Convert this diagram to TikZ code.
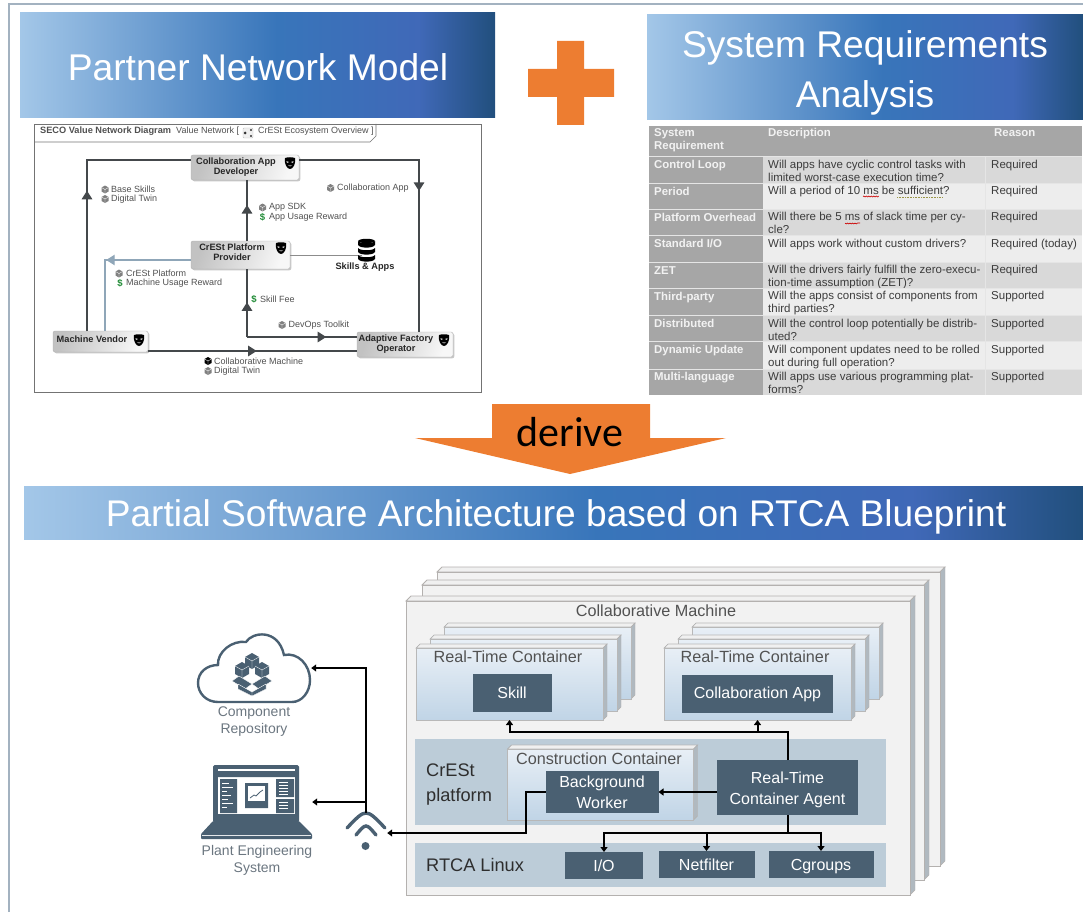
\documentclass[tikz,border=0pt]{standalone}
\usepackage{fontspec}
\setmainfont{Liberation Sans}
\newfontfamily\derivefont{Carlito}
\usetikzlibrary{arrows.meta,decorations.markings,decorations.pathmorphing,shadows}
\definecolor{framegrey}{HTML}{A3B2C0}
\definecolor{plusorange}{HTML}{ED7D31}
\definecolor{slate}{HTML}{4A6072}
\definecolor{bandblue}{HTML}{BCCCD8}
\definecolor{machinegrey}{HTML}{F2F2F2}
\definecolor{edgegrey}{HTML}{B4B1AF}
\definecolor{sidegrey}{HTML}{8E9BA5}
\definecolor{vnline}{HTML}{44484B}
\definecolor{vnblue}{HTML}{8FA6B8}
\definecolor{vntext}{HTML}{505050}
\definecolor{dollargreen}{HTML}{1E8A34}
\definecolor{headgrey}{HTML}{A6A6A6}
\definecolor{rowdark}{HTML}{D9D9D9}
\definecolor{rowlight}{HTML}{EDEDED}
\definecolor{cellink}{HTML}{3C3C3C}
\definecolor{cratetop}{HTML}{E8EFF6}
\definecolor{cratefoot}{HTML}{C0D4E6}
\definecolor{greylabel}{HTML}{6B7680}
\pgfdeclarehorizontalshading{bandshade}{100bp}{
	rgb(0bp)=(0.64,0.78,0.91);rgb(25bp)=(0.64,0.78,0.91);rgb(52bp)=(0.22,0.46,0.73);
	rgb(67bp)=(0.25,0.41,0.72);rgb(75bp)=(0.13,0.31,0.49);rgb(100bp)=(0.13,0.31,0.49)}
\tikzset{
	headband/.style={shading=bandshade,draw=none},
	headtext/.style={text=white,align=center,inner sep=0pt,font=\fontsize{37.2}{50}\selectfont},
	vnwire/.style={draw=vnline,line width=1.2pt},
	midtip/.style={postaction={decorate},decoration={markings,mark=at position #1 with {\arrow{Triangle[width=10.5pt,length=8.5pt]}}}},
	actor/.style={rounded corners=2pt,draw=white!70!black,inner sep=0pt,outer sep=0pt,shading=axis,left color=white!76!black,right color=white!97!black,shading angle=70,drop shadow={shadow xshift=1.3pt,shadow yshift=-1.3pt,opacity=.22,fill=black}},
	actortext/.style={font=\fontsize{9.2}{10}\selectfont\bfseries,align=center,text=black!85,inner sep=0pt},
	vnlabel/.style={font=\fontsize{9}{10}\selectfont,text=vntext,anchor=west,inner sep=0pt},
	dollar/.style={font=\fontsize{9.5}{10}\selectfont\bfseries,text=dollargreen,inner sep=0pt},
	pkgicon/.style={fill=black!50},
	pkg/.pic={
		\path[pic actions] (0,-4) -- (3.5,-2) -- (3.5,2) -- (0,4) -- (-3.5,2) -- (-3.5,-2) -- cycle;
		\draw[white,line width=.35pt] (-3.5,-2) -- (0,0) -- (3.5,-2) (0,0) -- (0,4);
	},
	mask/.pic={
		\fill[black] (-5,-5) .. controls (-2,-6) and (2,-6) .. (5,-5) .. controls (6,1) and (3,6) .. (0,6) .. controls (-3,6) and (-6,1) .. (-5,-5) -- cycle;
		\fill[white] (-3.4,-1.8) -- (-.8,-.9) -- (-3,-.2) -- cycle (3.4,-1.8) -- (.8,-.9) -- (3,-.2) -- cycle;
		\fill[white] (-2,2) .. controls (-1,3) and (1,3) .. (2,2) .. controls (1,3.9) and (-1,3.9) .. (-2,2) -- cycle;
	},
	cellbold/.style={font=\fontsize{11.4}{13}\selectfont\bfseries,text=white!95!black,anchor=north west,inner sep=0pt,align=left},
	cellplain/.style={font=\fontsize{11.5}{13}\selectfont,text=cellink,anchor=north west,inner sep=0pt,align=left},
	machine/.style={fill=machinegrey,draw=edgegrey,line width=.9pt},
	container/.style={top color=cratetop,bottom color=cratefoot,draw=white!72!black,line width=.7pt},
	darkbox/.style={fill=slate,text=white,inner sep=0pt,outer sep=0pt,align=center,font=\fontsize{16}{21}\selectfont},
	archlabel/.style={font=\fontsize{16.2}{18}\selectfont,text=black!68,inner sep=0pt},
	layerlabel/.style={font=\fontsize{18.2}{25}\selectfont,text=black!82,inner sep=0pt,anchor=west,align=left},
	sidelabel/.style={font=\fontsize{14}{17}\selectfont,text=greylabel,inner sep=0pt,align=center},
	wire/.style={draw=black,line width=2pt},
	tip/.style={-{Triangle[width=7pt,length=5pt]}}
}
\newcommand{\crate}[7]{
	\filldraw[#2,shading=axis,top color=white!94!black,bottom color=white!94!black] (#3,#4) -- ({#3+#7},{#4-#7}) -- ({#5+#7},{#4-#7}) -- (#5,#4) -- cycle;
	\filldraw[draw=edgegrey,fill=sidegrey!70!white] (#5,#4) -- ({#5+#7},{#4-#7}) -- ({#5+#7},{#6-#7}) -- (#5,#6) -- cycle;
	\node[#2,inner sep=0pt,outer sep=0pt,minimum width={(#5)-(#3)},minimum height={(#6)-(#4)}] (#1) at ({((#3)+(#5))/2},{((#4)+(#6))/2}) {};
}
\begin{document}
\begin{tikzpicture}[x=1pt,y=-1pt]
	\useasboundingbox (0,0) rectangle (1083,912);
	\draw[framegrey,line width=1.6pt] (9,912) -- (9,4) -- (1083,4);

	\path[headband] (20,13) rectangle (495,118);
	\node[headtext] (partnerhead) at (258,67) {Partner Network Model};
	\path[headband] (647,15) rectangle (1083,120);
	\node[headtext] (reqhead) at (865,72.5) {System Requirements\\Analysis};
	\path[headband] (24,486) rectangle (1083,539);
	\node[headtext,font=\fontsize{37.1}{40}\selectfont] (archhead) at (556,517) {Partial Software Architecture based on RTCA Blueprint};

	\fill[plusorange] (557,41) rectangle (584,125) (528,69) rectangle (614,97);
	\fill[plusorange] (492,404) -- (650,404) -- (650,438) -- (726,438) -- (570,474) -- (415,438) -- (492,438) -- cycle;
	\node[font=\fontsize{42}{44}\selectfont\derivefont,inner sep=0pt] (derive) at (570,432) {derive};

	\draw[white!45!black,line width=.7pt] (34,124) rectangle (481,392);
	\draw[white!45!black,line width=.6pt] (34,142) -- (370,142) -- (376,136) -- (376,124);
	\node[vnlabel,font=\fontsize{9.2}{10}\selectfont\bfseries] (seco) at (40,131) {SECO Value Network Diagram};
	\node[vnlabel] (vntitle) at (176,131) {Value Network [};
	\node[draw=black!25,fill=black!6,rounded corners=1pt,minimum size=10pt,inner sep=0pt] (vnglyph) at (248,133) {};
	\fill[black!80] (245,133) circle (1.5) (251,130) circle (1.1) (251,136) circle (1.1);
	\node[vnlabel] (vnname) at (258,131) {CrESt Ecosystem Overview ]};

	\node[actor,minimum width=108pt,minimum height=25pt] (collabdev) at (245,167.5) {};
	\node[actortext] (collabdevtext) at (236,167) {Collaboration App\\Developer};
	\node[actor,minimum width=99pt,minimum height=28pt] (crest) at (240.5,255) {};
	\node[actortext] (cresttext) at (232,252) {CrESt Platform\\Provider};
	\node[actor,minimum width=95pt,minimum height=21pt] (vendor) at (100.5,341.5) {};
	\node[actortext] (vendortext) at (92,339) {Machine Vendor};
	\node[actor,minimum width=96pt,minimum height=25pt] (operator) at (405,344.5) {};
	\node[actortext] (operatortext) at (396,344) {Adaptive Factory\\Operator};
	\foreach \x/\y in {290/163,281/248,139/340,444/340}
		\pic at (\x,\y) {mask};

	\coordinate (vendortop) at (87,331);
	\coordinate (feedtop) at (105,331);
	\coordinate (feejoin) at (247,337);
	\draw[vnwire,midtip=.51] (vendortop) -- (87,160) -- (collabdev.west |- 0,160);
	\draw[vnwire,midtip=.517] (collabdev.east |- 0,160) -- (419,160) -- (419,332);
	\draw[vnwire,midtip=.59] (crest.north -| 247,0) -- (collabdev.south -| 247,0);
	\draw[draw=vnblue,line width=1.3pt,midtip=.54] (crest.west |- 0,260) -- (105,260) -- (feedtop);
	\draw[vnwire,midtip=.51] (feejoin) -- (crest.south -| 247,0);
	\draw[vnwire,midtip=.72] (feejoin) -- (operator.west |- 0,337);
	\draw[vnwire,midtip=.52] (vendor.east |- 0,351) -- (operator.west |- 0,351);
	\draw[draw=black!45,line width=.9pt] (crest.east |- 0,255) -- (362,255);

	\foreach \x/\y in {105/189.5,105/199,330.5/188,262.5/207.5,119/273.5,282/325,208/371}
		\pic[pkgicon] at (\x,\y) {pkg};
	\pic[fill=black] at (208,361) {pkg};
	\foreach \i/\x/\y/\txt in {a/111/189.5/Base Skills,b/111/199/Digital Twin,c/337/188/Collaboration App,d/269/207.5/App SDK,e/269/217.5/App Usage Reward,f/126/273.5/CrESt Platform,g/126/283.5/Machine Usage Reward,h/260/299.5/Skill Fee,i/288.5/325/DevOps Toolkit,j/214/361/Collaborative Machine,k/214/371/Digital Twin}
		\node[vnlabel] (vn\i) at (\x,\y) {\txt};
	\foreach \i/\x/\y in {a/262.5/217.5,b/120/283.5,c/254/299.5}
		\node[dollar] (cash\i) at (\x,\y) {\$};

	\foreach \y in {241,248,255}
		\fill[black] (358,\y) -- (358,\y+4) .. controls (360,\y+7.5) and (373,\y+7.5) .. (375,\y+4) -- (375,\y) .. controls (373,\y+3) and (360,\y+3) .. (358,\y) -- cycle;
	\fill[black] (358,241) .. controls (360,238) and (373,238) .. (375,241) .. controls (373,244) and (360,244) .. (358,241) -- cycle;
	\node[actortext] (skillsapps) at (365,267) {Skills \& Apps};

	\fill[headgrey] (649,126) rectangle (1082,156.7);
	\node[cellbold] (reqcol) at (654,128) {System\\Requirement};
	\node[cellbold] (desccol) at (768,128) {Description};
	\node[cellbold] (whycol) at (994,128) {Reason};
	\foreach \i/\ya/\yb/\rowc/\nm/\desc/\why in {
		1/156.7/183.3/rowdark/Control Loop/{Will apps have cyclic control tasks with\\limited worst-case execution time?}/Required,
		2/183.3/209.3/rowlight/Period/{Will a period of 10 ms be sufficient?}/Required,
		3/209.3/235.7/rowdark/Platform Overhead/{Will there be 5 ms of slack time per cy-\\cle?}/Required,
		4/235.7/262.3/rowlight/{Standard I/O}/{Will apps work without custom drivers?}/Required (today),
		5/262.3/288.3/rowdark/ZET/{Will the drivers fairly fulfill the zero-execu-\\tion-time assumption (ZET)?}/Required,
		6/288.3/315.7/rowlight/Third-party/{Will the apps consist of components from\\third parties?}/Supported,
		7/315.7/341.7/rowdark/Distributed/{Will the control loop potentially be distrib-\\uted?}/Supported,
		8/341.7/369/rowlight/Dynamic Update/{Will component updates need to be rolled\\out during full operation?}/Supported,
		9/369/395.3/rowdark/Multi-language/{Will apps use various programming plat-\\forms?}/Supported}{
		\fill[\rowc] (762.7,\ya) rectangle (1082,\yb);
		\fill[headgrey] (649,\ya) rectangle (762.7,\yb);
		\draw[white!90!black,line width=.7pt] (649,\ya) -- (1082,\ya);
		\node[cellbold] (reqname\i) at (654,\ya+2.4) {\strut\nm};
		\node[cellplain] (reqdesc\i) at (768,\ya+2.2) {\strut\desc};
		\node[cellplain] (reqwhy\i) at (991,\ya+2.2) {\strut\why};
	}
	\draw[white!90!black,line width=.6pt] (985.7,156.7) -- (985.7,395.3);
	\draw[red!80!black,line width=.6pt,decorate,decoration={snake,amplitude=.5pt,segment length=2.5pt}] (863,196.5) -- (878,196.5) (845,223) -- (860,223);
	\draw[yellow!55!black,line width=.6pt,densely dotted] (897,197) -- (943,197);

	\crate{machinec}{machine}{437}{572}{940}{866}{5}
	\crate{machineb}{machine}{422}{585}{924}{880}{5}
	\crate{machinea}{machine}{406}{601}{910}{895}{5}
	\node[archlabel] (machinetext) at (656,611) {Collaborative Machine};

	\foreach \dx/\nm in {0/skill,248/collab}{
		\crate{rt\nm c}{container}{444+\dx}{627}{631+\dx}{699}{4}
		\crate{rt\nm b}{container}{430+\dx}{639}{617+\dx}{711}{4}
		\crate{rt\nm}{container}{416+\dx}{648}{603+\dx}{720}{4}
	}
	\node[archlabel] (rtskilltext) at (508,657) {Real-Time Container};
	\node[archlabel] (rtcollabtext) at (755,657) {Real-Time Container};
	\node[darkbox,minimum width=79pt,minimum height=38pt] (skill) at (512,693) {Skill};
	\node[darkbox,minimum width=150.5pt,minimum height=38pt] (collabapp) at (757.5,694) {Collaboration App};

	\fill[bandblue] (415,739) rectangle (886,825);
	\fill[bandblue] (415,843) rectangle (886,887);
	\node[layerlabel] (crestlayer) at (426,784.5) {CrESt\\platform};
	\node[layerlabel] (rtcalayer) at (426,865) {RTCA Linux};

	\crate{construction}{container}{507.5}{749}{693.5}{820}{4}
	\node[archlabel] (constructiontext) at (599,759) {Construction Container};
	\node[darkbox,minimum width=113pt,minimum height=42pt] (worker) at (602,792) {Background\\Worker};
	\node[darkbox,minimum width=141.5pt,minimum height=55pt] (agent) at (787.5,787.5) {\rule{0pt}{17pt}Real-Time\\Container Agent};
	\node[darkbox,minimum width=78pt,minimum height=27pt] (io) at (604,865.5) {I/O};
	\node[darkbox,minimum width=96pt,minimum height=27pt] (netfilter) at (706.5,864.5) {Netfilter};
	\node[darkbox,minimum width=105pt,minimum height=27pt,text height=11.6pt,text depth=0pt] (cgroups) at (821,864.5) {Cgroups};

	\node[inner sep=0pt,minimum width=114pt,minimum height=70pt] (repo) at (254,668) {};
	\draw[draw=slate,line width=2.4pt,fill=white] (218,702) .. controls (206,702) and (198,693) .. (198,683) .. controls (198,672) and (207,665) .. (218,665) .. controls (217,652) and (232,640) .. (246,642) .. controls (252,632) and (278,628) .. (284,655) .. controls (298,652) and (310,665) .. (310,680) .. controls (310,692) and (302,702) .. (292,702) -- cycle;
	\pic[fill=slate,scale=2] at (252,661) {pkg};
	\pic[fill=slate,scale=2] at (242,670) {pkg};
	\pic[fill=slate,scale=2] at (262,670) {pkg};
	\filldraw[fill=slate,draw=white,line width=.4pt] (239,676) -- (232,681) -- (245,689) -- (252,684) -- cycle (265,676) -- (272,681) -- (259,689) -- (252,684) -- cycle;
	\filldraw[fill=slate,draw=white,line width=.4pt] (238,684) -- (252,692) -- (252,696) -- (238,689) -- cycle (266,684) -- (252,692) -- (252,696) -- (266,689) -- cycle;
	\node[sidelabel] (repotext) at (254,721.5) {Component\\Repository};

	\node[inner sep=0pt,minimum width=111pt,minimum height=74pt] (plant) at (256.5,802) {};
	\fill[slate,rounded corners=1.5pt] (213,765) rectangle (299,822);
	\fill[white] (218,769) rectangle (295,814);
	\fill[slate] (218,771) rectangle (295,777) (220,779) rectangle (237,813) (276,779) rectangle (294,797) (276,799) rectangle (294,813) (245,783) rectangle (268,808);
	\fill[white] (248,786) rectangle (265,801);
	\draw[slate,line width=.8pt] (250,798) -- (254,795) -- (256,796) -- (260,792) -- (263,790);
	\foreach \y/\w in {783/7,787/11,791/5,795/9,799/6,803/11,807/5}
		\draw[white,line width=.8pt] (222,\y) -- ++(\w,0);
	\foreach \y in {782,785,788,791,794,802,805,808}
		\draw[white,line width=.7pt] (279,\y) -- ++(9,0);
	\fill[slate,rounded corners=1pt] (213,821) -- (299,821) -- (312,834) -- (312,839) -- (201,839) -- (201,834) -- cycle;
	\draw[white!85!slate,line width=.7pt] (202,835) -- (311,835);
	\node[sidelabel] (planttext) at (257,860.5) {Plant Engineering\\System};

	\node[inner sep=0pt,minimum width=42pt,minimum height=40pt] (wifi) at (366,833) {};
	\draw[slate,line width=3.4pt,line cap=round] (347,828) .. controls (366,808) .. (385,828) (356,835) .. controls (366,823) .. (376,835);
	\fill[slate] (365.5,846) circle (4);

	\draw[wire,tip] (agent.north) -- ++(0,-28) coordinate (upjoin) -| (rtskill.south);
	\draw[wire,tip] (upjoin) -| (rtcollab.south);
	\draw[wire,tip] (agent.west |- worker.east) -- (worker.east);
	\draw[wire,tip] (worker.west) -- ++(-20,0) |- (wifi.east);
	\draw[wire,tip] (agent.south) -- ++(0,18) coordinate (downjoin) -| (io.north);
	\draw[wire,tip] (downjoin) -| (netfilter.north);
	\draw[wire,tip] (downjoin) -| (cgroups.north);
	\draw[wire,tip] (wifi.north) |- (repo.east);
	\draw[wire,tip] (wifi.north |- plant.east) -- (plant.east);
\end{tikzpicture}
\end{document}
